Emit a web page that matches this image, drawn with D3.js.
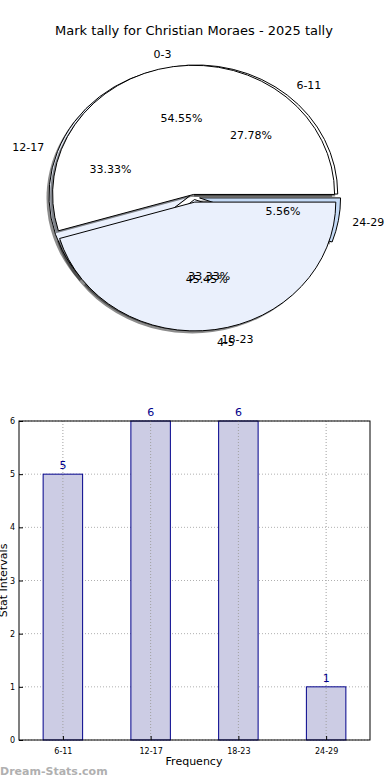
<!DOCTYPE html>
<html>
<head>
<meta charset="utf-8">
<script src="https://cdn.jsdelivr.net/npm/d3@7"></script>
<style>
    body { margin: 0; background: #fff; }
    svg { display: block; font-family: "DejaVu Sans", sans-serif; }
</style>
</head>
<body>
<svg id="chart" width="390" height="780"></svg>
<script>
// Datos del gráfico
const title = "Mark tally for Christian Moraes - 2025 tally";

// Primer pastel (dibujado encima)
const pieOneLabels = ["0-3", "4-5"];
const pieOneValues = [6, 5];
const pieOneColors = ["#ffffff", "#eaf0fc"];
const pieOneExplode = [0.02, 0.04];

// Segundo pastel (dibujado debajo)
const pieTwoLabels = ["6-11", "12-17", "18-23", "24-29"];
const pieTwoValues = [5, 6, 6, 1];
const pieTwoColors = ["#ffffff", "#eaf0fc", "#eaf0fc", "#c4daf6"];
const pieTwoExplode = [0.03, 0.03, 0.02, 0.04];

// Barras
const barCategories = ["6-11", "12-17", "18-23", "24-29"];
const barValues = [5, 6, 6, 1];
const yTicks = [0, 1, 2, 3, 4, 5, 6];

const svg = d3.select("#chart");

// Título
svg.append("text")
    .attr("x", 194)
    .attr("y", 35)
    .attr("text-anchor", "middle")
    .style("font-size", "13px")
    .text(title);

// ---- Pastel ----
const cx = 194, cy = 197, rx = 141, ry = 129;

// Arco en círculo unitario, luego escalado a elipse
const unitArc = d3.arc().innerRadius(0).outerRadius(1);

// Ángulos estilo matplotlib: desde las 3 en punto, sentido antihorario
const pieLayout = d3.pie().sort(null).startAngle(Math.PI / 2).endAngle(Math.PI / 2 - 2 * Math.PI);

function drawPie(labels, values, colors, explode) {
    const arcs = pieLayout(values);
    const total = d3.sum(values);
    const g = svg.append("g");

    const offsetOf = (d, i) => {
        const m = (d.startAngle + d.endAngle) / 2;
        return [explode[i] * rx * Math.sin(m), -explode[i] * ry * Math.cos(m)];
    };

    // Sombras
    arcs.forEach((d, i) => {
        const [ox, oy] = offsetOf(d, i);
        g.append("path")
            .attr("d", unitArc(d))
            .attr("transform", `translate(${cx + ox - 2.5},${cy + oy + 2.5}) scale(${rx},${ry})`)
            .attr("fill", "#000")
            .attr("fill-opacity", 0.45)
            .attr("stroke", "none");
    });

    // Porciones
    arcs.forEach((d, i) => {
        const [ox, oy] = offsetOf(d, i);
        g.append("path")
            .attr("d", unitArc(d))
            .attr("transform", `translate(${cx + ox},${cy + oy}) scale(${rx},${ry})`)
            .attr("fill", colors[i])
            .attr("stroke", "#000")
            .attr("stroke-width", 1)
            .attr("vector-effect", "non-scaling-stroke")
            .attr("stroke-linejoin", "miter");
    });

    return arcs.map((d, i) => ({ d, i, total, offset: offsetOf(d, i) }));
}

function drawPieText(items, labels, values) {
    items.forEach(({ d, i, total, offset }) => {
        const m = (d.startAngle + d.endAngle) / 2;
        const sx = Math.sin(m), sy = -Math.cos(m);
        // Etiqueta de la categoría
        const lx = cx + offset[0] + 1.1 * rx * sx;
        const ly = cy + offset[1] + 1.1 * ry * sy;
        svg.append("text")
            .attr("x", lx)
            .attr("y", ly)
            .attr("dy", "0.35em")
            .attr("text-anchor", sx > 0 ? "start" : "end")
            .style("font-size", "11px")
            .text(labels[i]);
        // Porcentaje
        svg.append("text")
            .attr("x", cx + offset[0] + 0.6 * rx * sx)
            .attr("y", cy + offset[1] + 0.6 * ry * sy)
            .attr("dy", "0.35em")
            .attr("text-anchor", "middle")
            .style("font-size", "11px")
            .text((values[i] / total * 100).toFixed(2) + "%");
    });
}

const pieTwoItems = drawPie(pieTwoLabels, pieTwoValues, pieTwoColors, pieTwoExplode);
const pieOneItems = drawPie(pieOneLabels, pieOneValues, pieOneColors, pieOneExplode);
drawPieText(pieOneItems, pieOneLabels, pieOneValues);
drawPieText(pieTwoItems, pieTwoLabels, pieTwoValues);

// ---- Barras ----
const plotLeft = 19, plotRight = 370, plotTop = 421, plotBottom = 740;

const x = d3.scaleLinear().domain([-0.5, barCategories.length - 0.5]).range([plotLeft, plotRight]);
const y = d3.scaleLinear().domain([0, 6]).range([plotBottom, plotTop]);
const barWidth = 0.45;

// Rejilla horizontal
const gridH = svg.append("g")
    .attr("stroke", "#b0b0b0")
    .attr("stroke-dasharray", "1,2");
yTicks.forEach(t => {
    gridH.append("line")
        .attr("x1", plotLeft).attr("x2", plotRight)
        .attr("y1", y(t)).attr("y2", y(t));
});

// Barras
svg.append("g").selectAll("rect")
    .data(barValues)
    .enter().append("rect")
    .attr("x", (d, i) => x(i - barWidth / 2))
    .attr("y", d => y(d))
    .attr("width", x(barWidth) - x(0))
    .attr("height", d => y(0) - y(d))
    .attr("fill", "#ccccE4")
    .attr("stroke", "#00008b")
    .attr("stroke-width", 1);

// Rejilla vertical (por encima de las barras)
const gridV = svg.append("g")
    .attr("stroke", "#a0a0a0")
    .attr("stroke-dasharray", "1,2");
barCategories.forEach((c, i) => {
    gridV.append("line")
        .attr("x1", x(i)).attr("x2", x(i))
        .attr("y1", plotTop).attr("y2", plotBottom);
});

// Valores encima de cada barra
svg.append("g").selectAll("text")
    .data(barValues)
    .enter().append("text")
    .attr("x", (d, i) => x(i))
    .attr("y", d => y(d) - 5)
    .attr("text-anchor", "middle")
    .attr("fill", "#00008b")
    .style("font-size", "11px")
    .text(d => d);

// Marco de los ejes
svg.append("rect")
    .attr("x", plotLeft).attr("y", plotTop)
    .attr("width", plotRight - plotLeft).attr("height", plotBottom - plotTop)
    .attr("fill", "none")
    .attr("stroke", "#000")
    .attr("stroke-width", 1);

// Eje Y
const yAxis = d3.axisLeft(y).tickValues(yTicks).tickFormat(d3.format("d"))
    .tickSizeInner(-4).tickSizeOuter(0).tickPadding(4);
svg.append("g")
    .attr("transform", `translate(${plotLeft},0)`)
    .call(yAxis)
    .call(g => g.select(".domain").remove())
    .call(g => g.selectAll("text").attr("x", -4).style("font-size", "8px").attr("font-family", "DejaVu Sans"));

// Eje X
const xAxis = d3.axisBottom(x)
    .tickValues(d3.range(barCategories.length))
    .tickFormat(i => barCategories[i])
    .tickSizeInner(-4).tickSizeOuter(0).tickPadding(8);
svg.append("g")
    .attr("transform", `translate(0,${plotBottom})`)
    .call(xAxis)
    .call(g => g.select(".domain").remove())
    .call(g => g.selectAll("text").style("font-size", "8px").attr("font-family", "DejaVu Sans"));

// Títulos de los ejes
svg.append("text")
    .attr("transform", `translate(194,765)`)
    .attr("text-anchor", "middle")
    .style("font-size", "11px")
    .text("Frequency");

svg.append("text")
    .attr("transform", `translate(7,${(plotTop + plotBottom) / 2}) rotate(-90)`)
    .attr("text-anchor", "middle")
    .style("font-size", "11px")
    .text("Stat Intervals");

// Marca de agua
svg.append("text")
    .attr("x", 0)
    .attr("y", 775)
    .attr("fill", "#b0b0b0")
    .style("font-size", "11px")
    .style("font-weight", "bold")
    .text("Dream-Stats.com");
</script>
</body>
</html>
